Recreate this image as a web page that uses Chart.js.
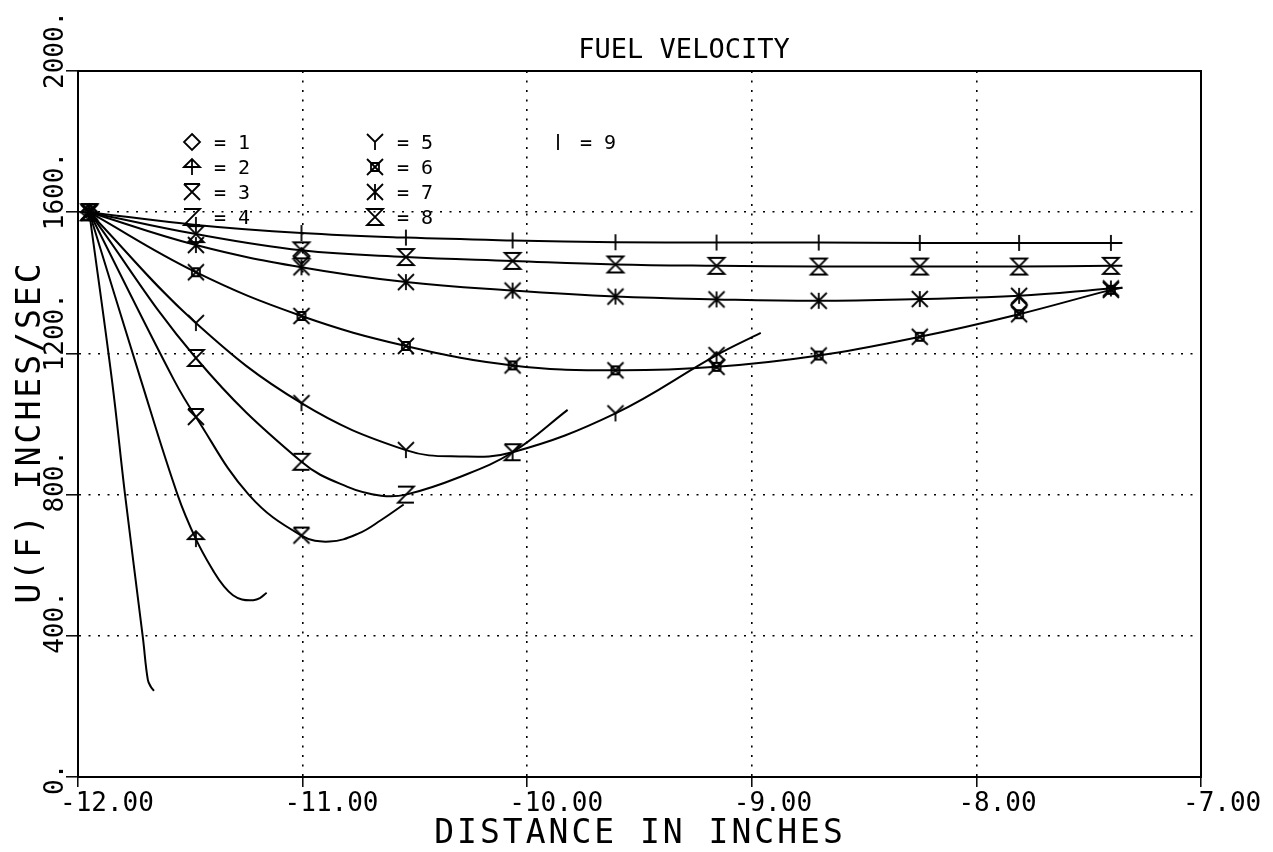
<!DOCTYPE html>
<html>
<head>
<meta charset="utf-8">
<title>Fuel velocity</title>
<script src="https://cdn.jsdelivr.net/npm/chart.js@4.4.1/dist/chart.umd.min.js"></script>
<style>
  html, body { margin: 0; padding: 0; background: #fff; }
  #wrap { width: 1273px; height: 852px; position: relative; }
</style>
</head>
<body>
<div id="wrap"><canvas id="chart"></canvas></div>
<script>
// axes
const X_TICKS = [-12, -11, -10, -9, -8, -7];
const X_TICK_LABELS = ["-12.00", "-11.00", "-10.00", "-9.00", "-8.00", "-7.00"];
const Y_TICKS = [0, 400, 800, 1200, 1600, 2000];
const Y_TICK_LABELS = ["0.", "400.", "800.", "1200.", "1600.", "2000."];

// stations where the plotter put a symbol on each curve
const MARKER_X = [-11.95, -11.475, -11.005, -10.54, -10.065, -9.607, -9.157, -8.702, -8.252, -7.81, -7.401];

// one curve per I
const U1_X = [-11.95, -11.849, -11.791, -11.711, -11.689, -11.675, -11.662];
const U1_Y = [1600, 1125, 802, 394, 275, 255, 244];

const U2_X = [-11.95, -11.72, -11.557, -11.475, -11.394, -11.35, -11.31, -11.27, -11.22, -11.19, -11.16];
const U2_Y = [1600, 1125, 800, 674, 580, 540, 515, 503, 501, 507, 522];

const U3_X = [-11.95, -11.573, -11.475, -11.24, -11.005, -10.88, -10.75, -10.65, -10.55];
const U3_Y = [1600, 1125, 1020, 800, 684, 667, 690, 728, 772];

const U4_X = [-11.95, -11.475, -11.005, -10.8, -10.65, -10.54, -10.3, -10.065, -9.82];
const U4_Y = [1600, 1187, 893, 822, 797, 800, 850, 920, 1040];

const U5_X = [-11.95, -11.475, -11.005, -10.54, -10.3, -10.065, -9.607, -9.157, -8.96];
const U5_Y = [1600, 1286, 1059, 926, 908, 920, 1030, 1195, 1258];

const LONG_X = [-11.95, -11.475, -11.005, -10.54, -10.065, -9.607, -9.157, -8.702, -8.252, -7.81, -7.401, -7.35];
const U6_Y = [1600, 1430, 1306, 1221, 1166, 1152, 1162, 1194, 1247, 1311, 1380, 1386];
const U7_Y = [1600, 1507, 1444, 1402, 1378, 1361, 1353, 1349, 1354, 1363, 1384, 1386];
const U8_Y = [1600, 1538, 1492, 1473, 1462, 1452, 1448, 1446, 1446, 1446, 1448, 1448];
const U9_Y = [1600, 1564, 1541, 1528, 1520, 1515, 1514, 1514, 1513, 1513, 1513, 1513];

// loose diamond symbols seen on the plot
const D_X = [-11.005, -9.157, -7.81];
const D_Y = [1476, 1181, 1337];

const LEGEND_LABELS = ["1", "2", "3", "4", "5", "6", "7", "8", "9"];

// calcomp style symbols drawn on small canvases
function makeSymbol(draw) {
  const c = document.createElement("canvas");
  c.width = 22; c.height = 22;
  const g = c.getContext("2d");
  g.translate(11, 11);
  g.strokeStyle = "#000";
  g.lineWidth = 1.8;
  g.beginPath();
  draw(g, 8);
  g.stroke();
  return c;
}

const SYMBOLS = [
  makeSymbol((g, s) => { g.moveTo(0, -s); g.lineTo(s, 0); g.lineTo(0, s); g.lineTo(-s, 0); g.closePath(); }),
  makeSymbol((g, s) => { g.moveTo(-s, 0); g.lineTo(0, -s); g.lineTo(s, 0); g.closePath(); g.moveTo(0, -s); g.lineTo(0, s); }),
  makeSymbol((g, s) => { g.moveTo(-s, -s); g.lineTo(s, s); g.moveTo(s, -s); g.lineTo(-s, s); g.moveTo(-s, -s); g.lineTo(s, -s); }),
  makeSymbol((g, s) => { g.moveTo(-s, -s); g.lineTo(s, -s); g.lineTo(-s, s); g.lineTo(s, s); }),
  makeSymbol((g, s) => { g.moveTo(-s, -s); g.lineTo(0, 0); g.lineTo(s, -s); g.moveTo(0, 0); g.lineTo(0, s); }),
  makeSymbol((g, s) => { g.rect(-s / 2, -s / 2, s, s); g.moveTo(-s, -s); g.lineTo(s, s); g.moveTo(s, -s); g.lineTo(-s, s); }),
  makeSymbol((g, s) => { g.moveTo(-s, -s); g.lineTo(s, s); g.moveTo(s, -s); g.lineTo(-s, s); g.moveTo(0, -s); g.lineTo(0, s); }),
  makeSymbol((g, s) => { g.moveTo(-s, -s); g.lineTo(s, -s); g.lineTo(-s, s); g.lineTo(s, s); g.closePath(); }),
  makeSymbol((g, s) => { g.moveTo(0, -s); g.lineTo(0, s); })
];

function pts(xs, ys) {
  return xs.map((x, i) => ({ x: x, y: ys[i] }));
}

function curve(label, xs, ys, sym) {
  return {
    label: label,
    data: pts(xs, ys),
    borderColor: "#000",
    backgroundColor: "#000",
    borderWidth: 2,
    tension: 0.4,
    fill: false,
    pointStyle: SYMBOLS[sym],
    pointRadius: ctx => (ctx.raw && MARKER_X.includes(ctx.raw.x)) ? 8 : 0
  };
}

const datasets = [
  curve("1", U1_X, U1_Y, 0),
  curve("2", U2_X, U2_Y, 1),
  curve("3", U3_X, U3_Y, 2),
  curve("4", U4_X, U4_Y, 3),
  curve("5", U5_X, U5_Y, 4),
  curve("6", LONG_X, U6_Y, 5),
  curve("7", LONG_X, U7_Y, 6),
  curve("8", LONG_X, U8_Y, 7),
  curve("9", LONG_X, U9_Y, 8),
  {
    label: "1 extra",
    data: pts(D_X, D_Y),
    showLine: false,
    borderColor: "#000",
    pointStyle: SYMBOLS[0],
    pointRadius: 8
  }
];

const FONT = '"DejaVu Sans Mono", monospace';

const plotText = {
  id: "plotText",
  afterDraw(chart) {
    const ctx = chart.ctx;
    const xs = chart.scales.x;
    const ys = chart.scales.y;
    const a = chart.chartArea;
    ctx.save();
    ctx.strokeStyle = "#000";
    ctx.lineWidth = 2;
    ctx.strokeRect(a.left, a.top, a.right - a.left, a.bottom - a.top);

    ctx.fillStyle = "#000";
    ctx.textAlign = "left";
    ctx.textBaseline = "alphabetic";
    ctx.font = "26px " + FONT;

    X_TICKS.forEach((v, i) => {
      ctx.fillText(X_TICK_LABELS[i], xs.getPixelForValue(v) - 18, 811);
    });
    Y_TICKS.forEach((v, i) => {
      ctx.save();
      ctx.translate(63, ys.getPixelForValue(v) + 18);
      ctx.rotate(-Math.PI / 2);
      ctx.fillText(Y_TICK_LABELS[i], 0, 0);
      ctx.restore();
    });

    // titles
    ctx.textAlign = "center";
    ctx.font = "27px " + FONT;
    ctx.fillText("FUEL VELOCITY", 684, 58);
    ctx.font = "33px " + FONT;
    ctx.letterSpacing = "3px";
    ctx.fillText("DISTANCE IN INCHES", 640, 843);
    ctx.save();
    ctx.translate(40, 432);
    ctx.rotate(-Math.PI / 2);
    ctx.fillText("U(F) INCHES/SEC", 0, 0);
    ctx.restore();
    ctx.letterSpacing = "0px";

    // key
    const colX = [192, 375, 558];
    const rowY = [142, 167, 192, 217];
    ctx.font = "20px " + FONT;
    ctx.textAlign = "left";
    LEGEND_LABELS.forEach((lab, i) => {
      const col = i < 4 ? 0 : (i < 8 ? 1 : 2);
      const row = i < 4 ? i : (i < 8 ? i - 4 : 0);
      const sx = colX[col];
      const sy = rowY[row];
      const sym = SYMBOLS[i];
      ctx.drawImage(sym, sx - sym.width / 2, sy - sym.height / 2);
      ctx.fillText("= " + lab, sx + 22, sy + 7);
    });
    ctx.restore();
  }
};

new Chart(document.getElementById("chart"), {
  type: "line",
  data: { datasets: datasets },
  plugins: [plotText],
  options: {
    responsive: true,
    maintainAspectRatio: false,
    animation: false,
    events: [],
    layout: { padding: { left: 0, top: 71, right: 72, bottom: 0 } },
    plugins: {
      legend: { display: false },
      title: { display: false },
      tooltip: { enabled: false }
    },
    scales: {
      x: {
        type: "linear",
        min: -12,
        max: -7,
        ticks: { display: false, stepSize: 1 },
        grid: { color: "#000", lineWidth: 1.6, tickLength: 10, tickColor: "#000", tickWidth: 1.5 },
        border: { display: true, color: "#000", width: 2, dash: [2, 7.5] },
        afterFit: s => { s.height = 75; }
      },
      y: {
        min: 0,
        max: 2000,
        ticks: { display: false, stepSize: 400 },
        grid: { color: "#000", lineWidth: 1.6, tickLength: 12, tickColor: "#000", tickWidth: 1.5 },
        border: { display: true, color: "#000", width: 2, dash: [2, 7.5] },
        afterFit: s => { s.width = 78; }
      }
    }
  }
});
</script>
</body>
</html>
